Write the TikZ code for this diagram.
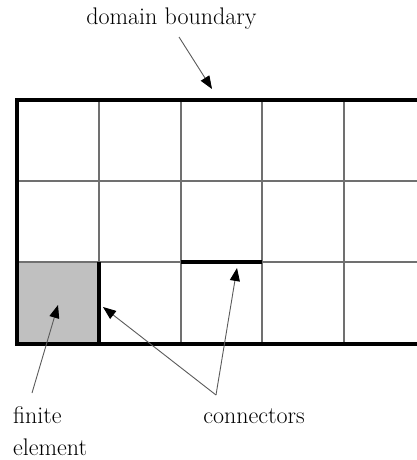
\documentclass[tikz,border=0pt]{standalone}
\usetikzlibrary{arrows.meta}
\definecolor{gridgray}{HTML}{707070}
\definecolor{cellgray}{HTML}{C0C0C0}
\definecolor{leadgray}{HTML}{5A5A5A}
\begin{document}
\begin{tikzpicture}[x=1pt,y=-1pt,
  gridline/.style={draw=gridgray,line width=2.6pt},
  boundary/.style={draw=black,line width=3.4pt},
  connline/.style={draw=black,line width=3.2pt},
  lead/.style={draw=leadgray,line width=0.9pt,-{Triangle[length=13pt,width=10pt,fill=black,color=black]}},
  lbl/.style={inner sep=0pt,font=\fontsize{24}{32}\selectfont,text=black}]
\useasboundingbox (0,0) rectangle (417,460);
% shaded finite element
\fill[cellgray] (17,262) rectangle (99,344);
% interior grid
\foreach \x in {99,181,262,344} \draw[gridline] (\x,100) -- (\x,344);
\foreach \y in {181,262} \draw[gridline] (17,\y) -- (420,\y);
% domain boundary
\draw[boundary] (420,100) -- (17,100) -- (17,344) -- (420,344);
% connectors
\draw[connline] (99,262) -- (99,344);
\draw[connline] (181,262) -- (262,262);
% labels
\node[lbl,anchor=base] (db) at (171.5,25) {domain boundary};
\node[lbl,anchor=base west] (fe1) at (13,423) {finite};
\node[lbl,anchor=base west] (fe2) at (13,455) {element};
\node[lbl,anchor=base] (cn) at (254,423) {connectors};
% arrow coordinates
\coordinate (dbTail) at (179,37);
\coordinate (dbTip) at (212,89);
\coordinate (feTail) at (32,393);
\coordinate (feTip) at (58,305);
\coordinate (cnV) at (216,395);
\coordinate (cnTipA) at (103,307);
\coordinate (cnTipB) at (237,268);
\draw[lead] (dbTail) -- (dbTip);
\draw[lead] (feTail) -- (feTip);
\draw[lead] (cnV) -- (cnTipA);
\draw[lead] (cnV) -- (cnTipB);
\end{tikzpicture}
\end{document}
